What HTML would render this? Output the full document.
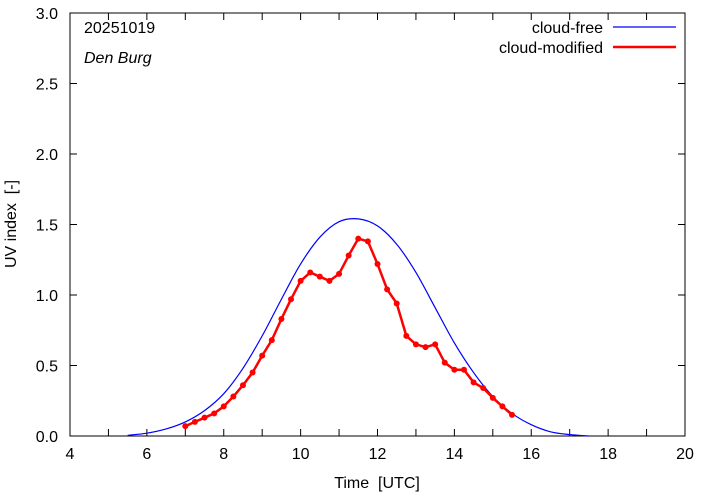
<!DOCTYPE html>
<html><head><meta charset="utf-8"><style>
html,body{margin:0;padding:0;background:#fff;}
svg{display:block;font-family:"Liberation Sans",sans-serif;}
</style></head><body>
<svg id="chart" width="702" height="497" viewBox="0 0 702 497">
<rect x="70" y="13" width="615" height="423" fill="none" stroke="#000" stroke-width="1"/>
<g id="ticks"></g>
<g id="series"></g>
<text x="84" y="33" font-size="16">20251019</text>
<text x="84" y="63" font-size="16" font-style="italic">Den Burg</text>
<text x="603" y="33" font-size="16" text-anchor="end">cloud-free</text>
<line x1="613" y1="27" x2="676" y2="27" stroke="#0000ff" stroke-width="1.2"/>
<text x="603" y="53" font-size="16" text-anchor="end">cloud-modified</text>
<line x1="613" y1="47" x2="676" y2="47" stroke="#ff0000" stroke-width="2.5"/>
<text x="377" y="488" font-size="16" text-anchor="middle">Time&#160;&#160;[UTC]</text>
<text transform="translate(16,224) rotate(-90)" font-size="16" text-anchor="middle">UV index&#160;&#160;[-]</text>
</svg>
<script>
const xTicks=[4,6,8,10,12,14,16,18,20];
const yTicks=[0,0.5,1.0,1.5,2.0,2.5,3.0];
const clearHours=[5.5,6,6.5,7,7.5,8,8.5,9,9.5,10,10.5,11,11.5,12,12.5,13,13.5,14,14.5,15,15.5,16,16.5,17,17.5];
const clearUV=[0.005,0.02,0.05,0.10,0.18,0.30,0.48,0.71,0.97,1.22,1.41,1.52,1.54,1.49,1.36,1.16,0.91,0.66,0.45,0.28,0.16,0.08,0.03,0.01,0];
const cloudHours=[7,7.25,7.5,7.75,8,8.25,8.5,8.75,9,9.25,9.5,9.75,10,10.25,10.5,10.75,11,11.25,11.5,11.75,12,12.25,12.5,12.75,13,13.25,13.5,13.75,14,14.25,14.5,14.75,15,15.25,15.5];
const cloudUV=[0.07,0.10,0.13,0.16,0.21,0.28,0.36,0.45,0.57,0.68,0.83,0.97,1.10,1.16,1.13,1.10,1.15,1.28,1.40,1.38,1.22,1.04,0.94,0.71,0.65,0.63,0.65,0.52,0.47,0.47,0.38,0.34,0.27,0.21,0.15];
const NS='http://www.w3.org/2000/svg';
const X0=70,X1=685,Y0=436,Y1=13;
function sx(v){return X0+(v-4)/16*(X1-X0);}
function sy(v){return Y0-v/3*(Y0-Y1);}
const tg=document.getElementById('ticks');
function mk(tag,attrs,parent){const e=document.createElementNS(NS,tag);for(const k in attrs)e.setAttribute(k,attrs[k]);parent.appendChild(e);return e;}
for(let h=4;h<=20;h++){
  const x=sx(h);
  const l=mk('line',{x1:x,y1:Y0,x2:x,y2:Y0-7,stroke:'#000'},tg);
  
  
  const l2=mk('line',{x1:x,y1:Y1,x2:x,y2:Y1+7,stroke:'#000'},tg);
  
  
}
xTicks.forEach(v=>{
  const t=mk('text',{x:sx(v),y:459,'font-size':16,'text-anchor':'middle'},tg);
  t.textContent=String(v);
  
  
});
yTicks.forEach(v=>{
  const y=sy(v);
  const l=mk('line',{x1:X0,y1:y,x2:X0+7,y2:y,stroke:'#000'},tg);
  
  
  const l2=mk('line',{x1:X1,y1:y,x2:X1-7,y2:y,stroke:'#000'},tg);
  
  
  const t=mk('text',{x:58,y:y+6,'font-size':16,'text-anchor':'end'},tg);
  t.textContent=v.toFixed(1);
  
  
});
const sg=document.getElementById('series');
const pts=clearHours.map((h,i)=>[sx(h),sy(clearUV[i])]);
let d='M'+pts[0][0]+','+pts[0][1];
for(let i=0;i<pts.length-1;i++){
  const p0=pts[Math.max(0,i-1)],p1=pts[i],p2=pts[i+1],p3=pts[Math.min(pts.length-1,i+2)];
  const c1=[p1[0]+(p2[0]-p0[0])/6,p1[1]+(p2[1]-p0[1])/6];
  const c2=[p2[0]-(p3[0]-p1[0])/6,p2[1]-(p3[1]-p1[1])/6];
  d+=' C'+c1[0]+','+c1[1]+' '+c2[0]+','+c2[1]+' '+p2[0]+','+p2[1];
}
const cf=mk('path',{d:d,fill:'none',stroke:'#0000ff','stroke-width':1.2},sg);


const cm=mk('polyline',{points:cloudHours.map((h,i)=>sx(h)+','+sy(cloudUV[i])).join(' '),fill:'none',stroke:'#ff0000','stroke-width':2.5,'stroke-linejoin':'round'},sg);


cloudHours.forEach((h,i)=>{
  const c=mk('circle',{cx:sx(h),cy:sy(cloudUV[i]),r:3,fill:'#ff0000'},sg);
  
  
});
</script>
</body></html>
